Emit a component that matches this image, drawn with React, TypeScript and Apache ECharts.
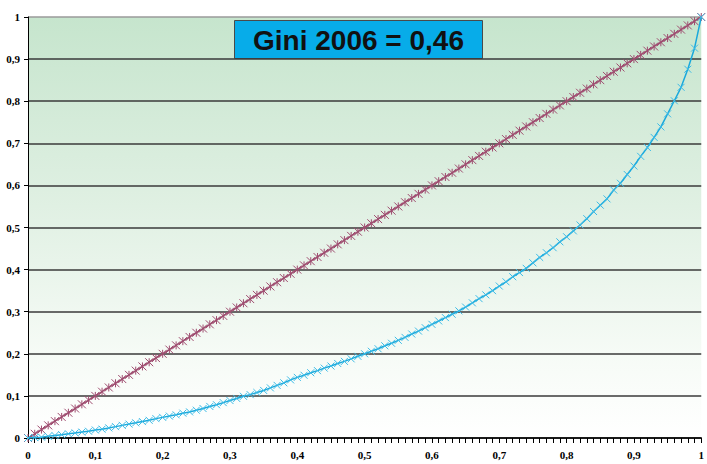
import React, { useEffect, useRef } from "react";
import * as echarts from "echarts";

const populationShare = [
  0, 0.01, 0.02, 0.03, 0.04, 0.05, 0.06, 0.07, 0.08, 0.09,
  0.1, 0.11, 0.12, 0.13, 0.14, 0.15, 0.16, 0.17, 0.18, 0.19,
  0.2, 0.21, 0.22, 0.23, 0.24, 0.25, 0.26, 0.27, 0.28, 0.29,
  0.3, 0.31, 0.32, 0.33, 0.34, 0.35, 0.36, 0.37, 0.38, 0.39,
  0.4, 0.41, 0.42, 0.43, 0.44, 0.45, 0.46, 0.47, 0.48, 0.49,
  0.5, 0.51, 0.52, 0.53, 0.54, 0.55, 0.56, 0.57, 0.58, 0.59,
  0.6, 0.61, 0.62, 0.63, 0.64, 0.65, 0.66, 0.67, 0.68, 0.69,
  0.7, 0.71, 0.72, 0.73, 0.74, 0.75, 0.76, 0.77, 0.78, 0.79,
  0.8, 0.81, 0.82, 0.83, 0.84, 0.85, 0.86, 0.87, 0.88, 0.89,
  0.9, 0.91, 0.92, 0.93, 0.94, 0.95, 0.96, 0.97, 0.98, 0.99,
  1,
];

const equalityShare = [
  0, 0.01, 0.02, 0.03, 0.04, 0.05, 0.06, 0.07, 0.08, 0.09,
  0.1, 0.11, 0.12, 0.13, 0.14, 0.15, 0.16, 0.17, 0.18, 0.19,
  0.2, 0.21, 0.22, 0.23, 0.24, 0.25, 0.26, 0.27, 0.28, 0.29,
  0.3, 0.31, 0.32, 0.33, 0.34, 0.35, 0.36, 0.37, 0.38, 0.39,
  0.4, 0.41, 0.42, 0.43, 0.44, 0.45, 0.46, 0.47, 0.48, 0.49,
  0.5, 0.51, 0.52, 0.53, 0.54, 0.55, 0.56, 0.57, 0.58, 0.59,
  0.6, 0.61, 0.62, 0.63, 0.64, 0.65, 0.66, 0.67, 0.68, 0.69,
  0.7, 0.71, 0.72, 0.73, 0.74, 0.75, 0.76, 0.77, 0.78, 0.79,
  0.8, 0.81, 0.82, 0.83, 0.84, 0.85, 0.86, 0.87, 0.88, 0.89,
  0.9, 0.91, 0.92, 0.93, 0.94, 0.95, 0.96, 0.97, 0.98, 0.99,
  1,
];

const lorenzShare = [
  0, 0.001, 0.002, 0.004, 0.006, 0.008, 0.01, 0.012, 0.014, 0.016,
  0.019, 0.021, 0.024, 0.027, 0.03, 0.033, 0.036, 0.039, 0.042, 0.046,
  0.049, 0.052, 0.055, 0.059, 0.062, 0.066, 0.07, 0.075, 0.079, 0.084,
  0.089, 0.094, 0.099, 0.103, 0.108, 0.113, 0.119, 0.125, 0.131, 0.138,
  0.144, 0.149, 0.155, 0.16, 0.166, 0.171, 0.177, 0.182, 0.188, 0.194,
  0.2, 0.206, 0.212, 0.219, 0.225, 0.232, 0.239, 0.247, 0.254, 0.262,
  0.27, 0.278, 0.286, 0.294, 0.302, 0.311, 0.321, 0.331, 0.34, 0.35,
  0.361, 0.371, 0.383, 0.393, 0.403, 0.416, 0.429, 0.44, 0.452, 0.466,
  0.478, 0.492, 0.506, 0.521, 0.538, 0.553, 0.568, 0.589, 0.605, 0.626,
  0.646, 0.669, 0.69, 0.714, 0.739, 0.77, 0.801, 0.833, 0.876, 0.926,
  1,
];

const axisTicks = [0, 0.1, 0.2, 0.3, 0.4, 0.5, 0.6, 0.7, 0.8, 0.9, 1];
const titleText = "Gini 2006 = 0,46";

const fmt = (v: number) => {
  const r = Math.round(v * 10) / 10;
  return String(r).replace(".", ",");
};

export default function App() {
  const ref = useRef<HTMLDivElement>(null);
  useEffect(() => {
    if (!ref.current) return;
    const chart = echarts.init(ref.current, undefined, { renderer: "svg" });
    const labelFont = {
      fontFamily: "'Liberation Serif', 'DejaVu Serif', serif",
      fontWeight: "bold" as const,
      fontSize: 11,
      color: "#000",
    };
    const splitColors = axisTicks.map((t, i) => (i === axisTicks.length - 1 ? "#9a9a9a" : "#3a3a3a"));
    chart.setOption({
      animation: false,
      backgroundColor: "#ffffff",
      grid: {
        left: 28,
        right: 5,
        top: 17,
        bottom: 26,
        show: true,
        borderWidth: 0,
        backgroundColor: new echarts.graphic.LinearGradient(0, 0, 0, 1, [
          { offset: 0, color: "#c6e5cd" },
          { offset: 0.45, color: "#e0f0e3" },
          { offset: 0.8, color: "#f6fbf6" },
          { offset: 1, color: "#ffffff" },
        ]),
      },
      xAxis: {
        type: "value",
        min: 0,
        max: 1,
        interval: 0.1,
        axisLine: { show: true, lineStyle: { color: "#000", width: 1.5 } },
        axisTick: { show: true, length: 5, lineStyle: { color: "#000" } },
        minorTick: { show: true, splitNumber: 10, length: 5, lineStyle: { color: "#000" } },
        splitLine: { show: false },
        axisLabel: { ...labelFont, margin: 11, formatter: fmt },
      },
      yAxis: {
        type: "value",
        min: 0,
        max: 1,
        interval: 0.1,
        axisLine: { show: true, lineStyle: { color: "#000", width: 1 } },
        axisTick: { show: true, length: 4, lineStyle: { color: "#000" } },
        splitLine: { show: true, lineStyle: { color: splitColors, width: 1.5 } },
        axisLabel: { ...labelFont, margin: 8, formatter: fmt },
      },
      series: [
        {
          type: "line",
          name: "Equality",
          data: populationShare.map((x, i) => [x, equalityShare[i]]),
          symbol: "path://M0,0L8,8M8,0L0,8M4,0L4,8",
          symbolSize: 8,
          showSymbol: true,
          lineStyle: { color: "#9f4d70", width: 1.5 },
          itemStyle: { color: "#9f4d70", borderColor: "#9f4d70", borderWidth: 1 },
          z: 3,
        },
        {
          type: "line",
          name: "Lorenz",
          data: populationShare.map((x, i) => [x, lorenzShare[i]]),
          symbol: "path://M0,0L8,8M8,0L0,8",
          symbolSize: 7,
          showSymbol: true,
          lineStyle: { color: "#1aa9dc", width: 1.5 },
          itemStyle: { color: "#3cbbe6", borderColor: "#3cbbe6", borderWidth: 1 },
          z: 4,
        },
      ],
      graphic: [
        {
          type: "group",
          left: 234,
          top: 20,
          children: [
            {
              type: "rect",
              shape: { x: 0, y: 0, width: 248, height: 38 },
              style: { fill: "#07ace9", stroke: "#4a4a4a", lineWidth: 1 },
            },
            {
              type: "text",
              x: 124,
              y: 20,
              style: {
                text: titleText,
                fill: "#111",
                font: "bold 28px 'Liberation Sans', Arial, sans-serif",
                align: "center",
                verticalAlign: "middle",
              },
            },
          ],
        },
      ],
    });
    return () => chart.dispose();
  }, []);
  return (
    <div
      ref={ref}
      style={{ position: "fixed", left: 0, top: 0, width: 707, height: 464 }}
    />
  );
}
